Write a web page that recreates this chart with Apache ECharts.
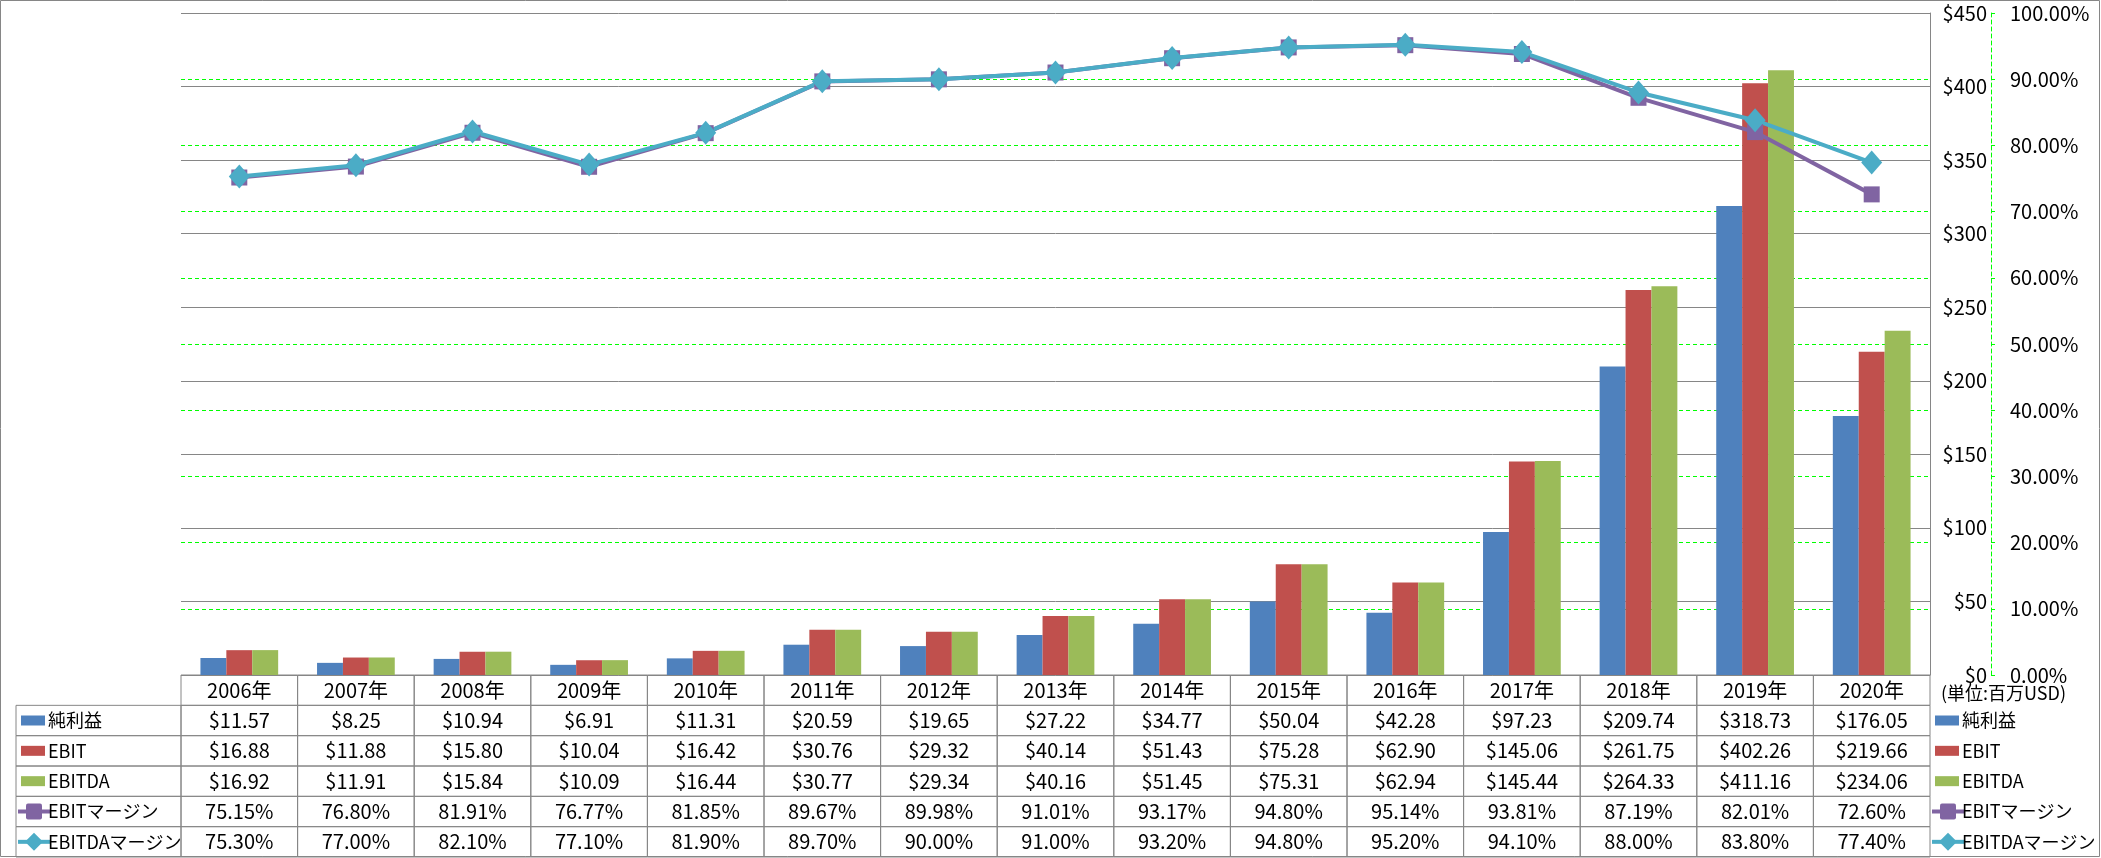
<!DOCTYPE html>
<html>
<head>
<meta charset="utf-8">
<script src="https://cdn.jsdelivr.net/npm/echarts@6/dist/echarts.min.js"></script>
<style>
  html, body { margin: 0; padding: 0; background: #fff; }
  #chart { width: 2101px; height: 858px; }
</style>
</head>
<body>
<div id="chart"></div>
<script>
// 年度
var years = ['2006年', '2007年', '2008年', '2009年', '2010年', '2011年', '2012年', '2013年',
  '2014年', '2015年', '2016年', '2017年', '2018年', '2019年', '2020年'];
// 百万USD
var netIncome = [11.57, 8.25, 10.94, 6.91, 11.31, 20.59, 19.65, 27.22, 34.77, 50.04, 42.28, 97.23, 209.74, 318.73, 176.05];
var ebit = [16.88, 11.88, 15.80, 10.04, 16.42, 30.76, 29.32, 40.14, 51.43, 75.28, 62.90, 145.06, 261.75, 402.26, 219.66];
var ebitda = [16.92, 11.91, 15.84, 10.09, 16.44, 30.77, 29.34, 40.16, 51.45, 75.31, 62.94, 145.44, 264.33, 411.16, 234.06];
// %
var ebitMargin = [75.15, 76.80, 81.91, 76.77, 81.85, 89.67, 89.98, 91.01, 93.17, 94.80, 95.14, 93.81, 87.19, 82.01, 72.60];
var ebitdaMargin = [75.30, 77.00, 82.10, 77.10, 81.90, 89.70, 90.00, 91.00, 93.20, 94.80, 95.20, 94.10, 88.00, 83.80, 77.40];

var seriesNames = ['純利益', 'EBIT', 'EBITDA', 'EBITマージン', 'EBITDAマージン'];
var colors = ['#4F81BD', '#C0504D', '#9BBB59', '#8064A2', '#4BACC6'];

var FONT = '"Noto Sans CJK JP", sans-serif';
var GRAY = '#868686';
var GREEN = '#00FF00';

var rowValues = [netIncome, ebit, ebitda, ebitMargin, ebitdaMargin];

function cellText(c, r) {
  if (r === 0) return years[c];
  var v = rowValues[r - 1][c];
  return r <= 3 ? '$' + v.toFixed(2) : v.toFixed(2) + '%';
}

// 凡例アイコン + 名前
function labelParts(x, y, i) {
  var parts = [];
  if (i < 3) {
    parts.push({ type: 'rect', shape: { x: x + 5, y: y - 5, width: 24, height: 10 }, style: { fill: colors[i] } });
  } else {
    parts.push({ type: 'line', shape: { x1: x + 2, y1: y, x2: x + 34, y2: y }, style: { stroke: colors[i], lineWidth: 4 } });
    var cx = x + 18;
    if (i === 3) {
      parts.push({ type: 'rect', shape: { x: cx - 8, y: y - 8, width: 16, height: 16, r: 2 }, style: { fill: colors[i] } });
    } else {
      parts.push({ type: 'polygon', shape: { points: [[cx, y - 9], [cx + 9, y], [cx, y + 9], [cx - 9, y]] }, style: { fill: colors[i] } });
    }
  }
  parts.push({ type: 'text', style: { text: seriesNames[i], x: x + 32, y: y, align: 'left', verticalAlign: 'middle', font: '18px ' + FONT, fill: '#000' } });
  return parts;
}

var cells = [];
for (var c = 0; c < years.length; c++) {
  for (var r = 0; r < 6; r++) cells.push([c, r]);
}

var chart = echarts.init(document.getElementById('chart'));
var option = {
  animation: false,
  textStyle: { fontFamily: FONT },
  grid: [
    { left: 181, top: 13, width: 1749, height: 662 },
    { left: 181, top: 675, width: 1749, height: 182 }
  ],
  xAxis: [
    { type: 'category', data: years, gridIndex: 0, axisLine: { show: false }, axisTick: { show: false }, axisLabel: { show: false }, splitLine: { show: false } },
    { type: 'category', data: years, gridIndex: 1, show: false }
  ],
  yAxis: [
    {
      type: 'value', gridIndex: 0, position: 'right', min: 0, max: 450, interval: 50,
      axisLine: { show: true, onZero: false, lineStyle: { color: GRAY, width: 1 } },
      axisTick: { show: false },
      axisLabel: { formatter: function (v) { return '$' + v; }, align: 'right', margin: 57, fontSize: 20, color: '#000', fontFamily: FONT },
      splitLine: { show: true, lineStyle: { color: GRAY, width: 1 } }
    },
    {
      type: 'value', gridIndex: 0, position: 'right', offset: 61, min: 0, max: 100, interval: 10,
      axisLine: { show: true, onZero: false, lineStyle: { color: GREEN, width: 1, type: [4, 3] } },
      axisTick: { show: true, length: 4, lineStyle: { color: GREEN } },
      axisLabel: { formatter: function (v) { return v.toFixed(2) + '%'; }, align: 'left', margin: 19, fontSize: 20, color: '#000', fontFamily: FONT },
      splitLine: { show: true, showMinLine: false, showMaxLine: false, lineStyle: { color: GREEN, width: 1, type: [4, 3] } }
    },
    { type: 'category', data: [0, 1, 2, 3, 4, 5], gridIndex: 1, inverse: true, show: false }
  ],
  graphic: [
    { type: 'rect', shape: { x: 0.5, y: 0.5, width: 2099, height: 856 }, style: { fill: 'none', stroke: GRAY, lineWidth: 1 }, silent: true },
    { type: 'text', left: 1941, top: 684, style: { text: '(単位:百万USD)', font: '18px ' + FONT, fill: '#000' }, silent: true }
  ],
  series: [
    { name: seriesNames[0], type: 'bar', data: netIncome, itemStyle: { color: colors[0] }, barGap: '0%', barCategoryGap: '33.33%' },
    { name: seriesNames[1], type: 'bar', data: ebit, itemStyle: { color: colors[1] }, barGap: '0%', barCategoryGap: '33.33%' },
    { name: seriesNames[2], type: 'bar', data: ebitda, itemStyle: { color: colors[2] }, barGap: '0%', barCategoryGap: '33.33%' },
    {
      name: seriesNames[3], type: 'line', yAxisIndex: 1, data: ebitMargin,
      symbol: 'rect', symbolSize: 16,
      lineStyle: { color: colors[3], width: 4 }, itemStyle: { color: colors[3] }
    },
    {
      name: seriesNames[4], type: 'line', yAxisIndex: 1, data: ebitdaMargin,
      symbol: 'diamond', symbolSize: [21, 24],
      lineStyle: { color: colors[4], width: 4 }, itemStyle: { color: colors[4] }
    },
    {
      // データテーブル
      type: 'custom', xAxisIndex: 1, yAxisIndex: 2, data: cells, silent: true, clip: false,
      renderItem: function (params, api) {
        var c = api.value(0), r = api.value(1);
        var p = api.coord([c, r]);
        var s = api.size([1, 1]);
        var x0 = p[0] - s[0] / 2, y0 = p[1] - s[1] / 2;
        var kids = [
          { type: 'rect', shape: { x: x0, y: y0, width: s[0], height: s[1] }, style: { fill: 'none', stroke: GRAY, lineWidth: 1 } },
          { type: 'text', style: { text: cellText(c, r), x: p[0], y: p[1], align: 'center', verticalAlign: 'middle', font: '20px ' + FONT, fill: '#000' } }
        ];
        if (r > 0 && c === 0) {
          kids.push({ type: 'rect', shape: { x: 16, y: y0, width: x0 - 16, height: s[1] }, style: { fill: 'none', stroke: GRAY, lineWidth: 1 } });
          kids = kids.concat(labelParts(16, p[1], r - 1));
        }
        if (r > 0 && c === years.length - 1) {
          kids = kids.concat(labelParts(x0 + s[0], p[1], r - 1));
        }
        return { type: 'group', children: kids };
      }
    }
  ]
};
chart.setOption(option);
</script>
</body>
</html>
